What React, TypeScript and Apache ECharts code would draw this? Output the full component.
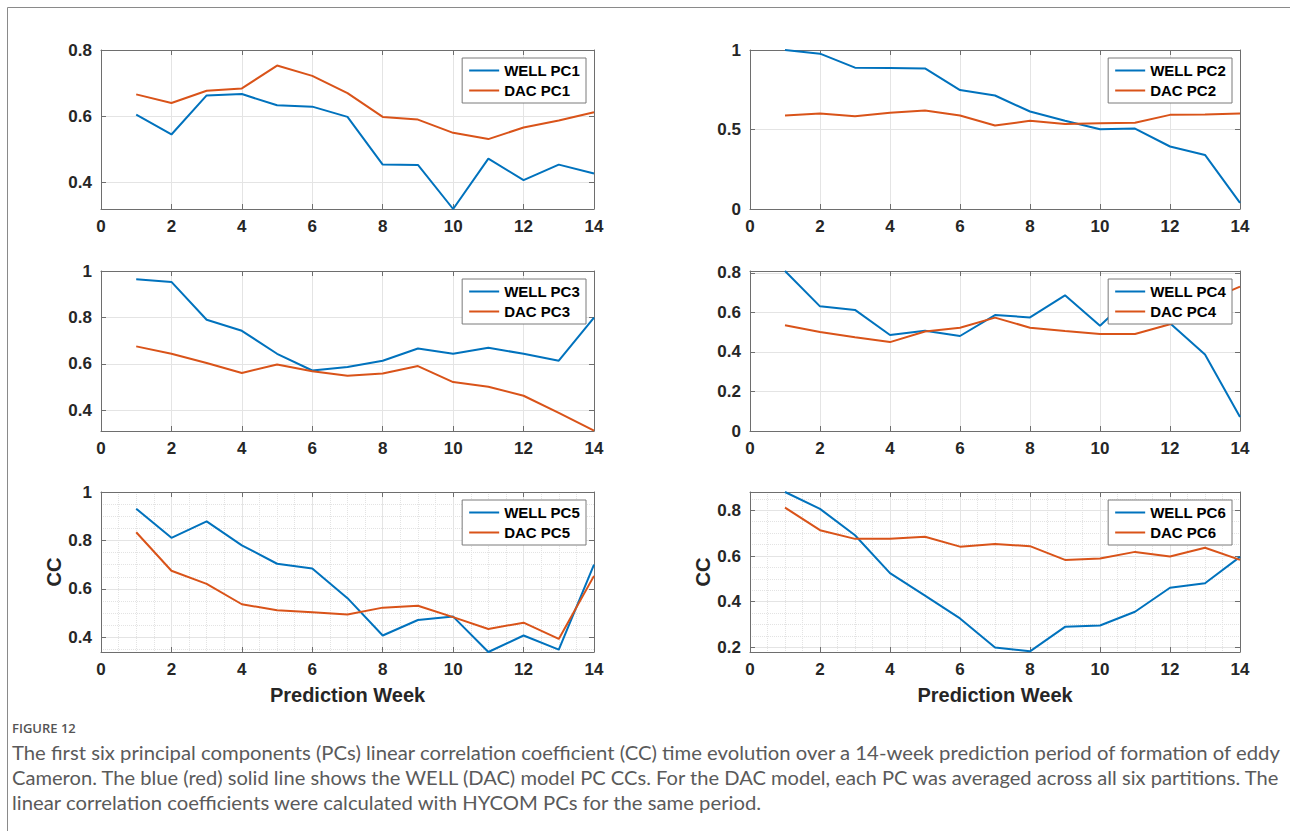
import React, { useEffect, useRef } from "react";
import * as echarts from "echarts";

const weeks = [1, 2, 3, 4, 5, 6, 7, 8, 9, 10, 11, 12, 13, 14];

const wellPC1 = [0.605, 0.545, 0.663, 0.667, 0.633, 0.629, 0.598, 0.454, 0.453, 0.32, 0.472, 0.407, 0.454, 0.427];
const dacPC1 = [0.666, 0.64, 0.677, 0.684, 0.753, 0.722, 0.67, 0.598, 0.59, 0.55, 0.531, 0.566, 0.587, 0.612];
const wellPC2 = [1.0, 0.977, 0.889, 0.887, 0.884, 0.748, 0.714, 0.613, 0.555, 0.502, 0.506, 0.393, 0.34, 0.038];
const dacPC2 = [0.588, 0.601, 0.584, 0.605, 0.62, 0.588, 0.525, 0.555, 0.534, 0.54, 0.542, 0.592, 0.595, 0.601];
const wellPC3 = [0.964, 0.953, 0.79, 0.742, 0.643, 0.571, 0.586, 0.613, 0.666, 0.643, 0.669, 0.643, 0.613, 0.799];
const dacPC3 = [0.675, 0.643, 0.603, 0.56, 0.597, 0.568, 0.548, 0.558, 0.59, 0.521, 0.501, 0.462, 0.388, 0.312];
const wellPC4 = [0.81, 0.631, 0.613, 0.486, 0.508, 0.481, 0.587, 0.575, 0.687, 0.533, 0.7, 0.545, 0.387, 0.071];
const dacPC4 = [0.535, 0.501, 0.475, 0.45, 0.504, 0.523, 0.574, 0.523, 0.506, 0.491, 0.491, 0.54, 0.655, 0.731];
const wellPC5 = [0.931, 0.811, 0.879, 0.78, 0.704, 0.684, 0.562, 0.408, 0.472, 0.486, 0.34, 0.408, 0.35, 0.7];
const dacPC5 = [0.834, 0.675, 0.621, 0.537, 0.512, 0.504, 0.495, 0.523, 0.531, 0.484, 0.435, 0.461, 0.394, 0.654];
const wellPC6 = [0.88, 0.806, 0.691, 0.525, 0.427, 0.327, 0.2, 0.183, 0.29, 0.296, 0.356, 0.461, 0.481, 0.596];
const dacPC6 = [0.812, 0.713, 0.675, 0.676, 0.684, 0.641, 0.653, 0.643, 0.583, 0.589, 0.618, 0.598, 0.636, 0.583];

const yTicksPC1 = [0.4, 0.6, 0.8];
const yTicksPC2 = [0, 0.5, 1];
const yTicksPC3 = [0.4, 0.6, 0.8, 1];
const yTicksPC4 = [0, 0.2, 0.4, 0.6, 0.8];
const yTicksPC5 = [0.4, 0.6, 0.8, 1];
const yTicksPC6 = [0.2, 0.4, 0.6, 0.8];

const captionTitle = "FIGURE 12";
const captionLines = [
  "The first six principal components (PCs) linear correlation coefficient (CC) time evolution over a 14-week prediction period of formation of eddy",
  "Cameron. The blue (red) solid line shows the WELL (DAC) model PC CCs. For the DAC model, each PC was averaged across all six partitions. The",
  "linear correlation coefficients were calculated with HYCOM PCs for the same period.",
];

const panels = [
  { label: "PC1", well: wellPC1, dac: dacPC1, yMin: 0.32, yMax: 0.8, ticks: yTicksPC1, split: 3, minor: false },
  { label: "PC2", well: wellPC2, dac: dacPC2, yMin: 0, yMax: 1, ticks: yTicksPC2, split: 2, minor: false },
  { label: "PC3", well: wellPC3, dac: dacPC3, yMin: 0.31, yMax: 1, ticks: yTicksPC3, split: 3, minor: false },
  { label: "PC4", well: wellPC4, dac: dacPC4, yMin: 0, yMax: 0.81, ticks: yTicksPC4, split: 4, minor: false },
  { label: "PC5", well: wellPC5, dac: dacPC5, yMin: 0.34, yMax: 1, ticks: yTicksPC5, split: 3, minor: true },
  { label: "PC6", well: wellPC6, dac: dacPC6, yMin: 0.18, yMax: 0.88, ticks: yTicksPC6, split: 3, minor: true },
];

const W = 1290;
const colLeft = [101, 750];
const colWidth = [493, 490];
const rowTop = [50, 271, 492];
const rowHeight = [159, 160, 160];

const BLUE = "#0072BD";
const ORANGE = "#D95319";
const AXIS = "#262626";
const BOX = "#6e6e6e";
const FONT = "Liberation Sans";
const CAPTION_FONT_SIZE = 19;
const CAPTION_WIDTH = 1270;

function measure(text: string): number {
  const c = document.createElement("canvas").getContext("2d");
  if (!c) return text.length * 8;
  c.font = CAPTION_FONT_SIZE + "px Lato";
  return c.measureText(text).width;
}

function buildOption() {
  const grid: any[] = [];
  const xAxis: any[] = [];
  const yAxis: any[] = [];
  const series: any[] = [];
  const legend: any[] = [];

  panels.forEach((p, i) => {
    const col = i % 2;
    const row = Math.floor(i / 2);
    const left = colLeft[col];
    const width = colWidth[col];
    const top = rowTop[row];
    const height = rowHeight[row];
    grid.push({ left, top, width, height, containLabel: false });
    const isBottom = row === 2;

    const minorSplit = p.minor
      ? { show: true, lineStyle: { color: "#e3e3e3", type: "dotted", width: 1 } }
      : { show: false };

    xAxis.push({
      type: "value",
      gridIndex: i,
      position: "bottom",
      min: 0,
      max: 14,
      interval: 2,
      axisLine: { show: true, onZero: false, lineStyle: { color: BOX, width: 1 } },
      axisTick: { show: true, inside: true, length: 5, lineStyle: { color: BOX } },
      axisLabel: { color: AXIS, fontSize: 17, fontWeight: "bold", fontFamily: FONT, margin: 9 },
      splitLine: { show: true, lineStyle: { color: "#e4e4e4", width: 1 } },
      minorTick: { show: false, splitNumber: 4 },
      minorSplitLine: minorSplit,
      name: isBottom ? "Prediction Week" : "",
      nameLocation: "middle",
      nameGap: 33,
      nameTextStyle: { color: AXIS, fontSize: 20, fontWeight: "bold", fontFamily: FONT },
    });
    xAxis.push({
      type: "value",
      gridIndex: i,
      position: "top",
      min: 0,
      max: 14,
      interval: 2,
      axisLine: { show: true, onZero: false, lineStyle: { color: BOX, width: 1 } },
      axisTick: { show: true, inside: true, length: 5, lineStyle: { color: BOX } },
      axisLabel: { show: false },
      splitLine: { show: false },
    });
    yAxis.push({
      type: "value",
      gridIndex: i,
      position: "left",
      min: p.yMin,
      max: p.yMax,
      splitNumber: p.split,
      axisLine: { show: true, onZero: false, lineStyle: { color: BOX, width: 1 } },
      axisTick: { show: true, inside: true, length: 5, lineStyle: { color: BOX }, customValues: p.ticks },
      axisLabel: {
        color: AXIS,
        fontSize: 17,
        fontWeight: "bold",
        fontFamily: FONT,
        margin: 9,
        customValues: p.ticks,
      },
      splitLine: { show: true, lineStyle: { color: "#e4e4e4", width: 1 } },
      minorTick: { show: false, splitNumber: 4 },
      minorSplitLine: minorSplit,
      name: isBottom ? "CC" : "",
      nameLocation: "middle",
      nameGap: 35,
      nameRotate: 90,
      nameTextStyle: { color: AXIS, fontSize: 20, fontWeight: "bold", fontFamily: FONT },
    });
    yAxis.push({
      type: "value",
      gridIndex: i,
      position: "right",
      min: p.yMin,
      max: p.yMax,
      splitNumber: p.split,
      axisLine: { show: true, onZero: false, lineStyle: { color: BOX, width: 1 } },
      axisTick: { show: true, inside: true, length: 5, lineStyle: { color: BOX }, customValues: p.ticks },
      axisLabel: { show: false },
      splitLine: { show: false },
    });

    const wellName = "WELL " + p.label;
    const dacName = "DAC " + p.label;
    series.push({
      type: "line",
      name: wellName,
      xAxisIndex: 2 * i,
      yAxisIndex: 2 * i,
      data: weeks.map((w, k) => [w, p.well[k]]),
      symbol: "none",
      lineStyle: { color: BLUE, width: 2 },
      itemStyle: { color: BLUE },
      z: 3,
    });
    series.push({
      type: "line",
      name: dacName,
      xAxisIndex: 2 * i,
      yAxisIndex: 2 * i,
      data: weeks.map((w, k) => [w, p.dac[k]]),
      symbol: "none",
      lineStyle: { color: ORANGE, width: 2 },
      itemStyle: { color: ORANGE },
      z: 3,
    });

    legend.push({
      data: [wellName, dacName],
      orient: "vertical",
      right: W - (left + width) + 8,
      top: top + 8,
      backgroundColor: "#ffffff",
      borderColor: "#7a7a7a",
      borderWidth: 1,
      borderRadius: 0,
      padding: [5, 6, 5, 6],
      itemGap: 5,
      itemWidth: 30,
      itemHeight: 14,
      itemStyle: { opacity: 0 },
      lineStyle: { width: 2 },
      textStyle: { color: "#000", fontSize: 15, fontWeight: "bold", fontFamily: FONT },
      selectedMode: false,
      z: 10,
    });
  });

  const widths = captionLines.map(measure);
  const scales = [CAPTION_WIDTH / widths[0], CAPTION_WIDTH / widths[1]];
  scales.push(scales[0]);

  const graphic: any[] = [
    {
      type: "polyline",
      shape: { points: [[7.5, 831], [7.5, 7.5], [1290, 7.5]] },
      style: { stroke: "#8a8a8a", lineWidth: 1, fill: "none" },
      silent: true,
    },
    {
      type: "text",
      left: 12,
      top: 721,
      style: { text: captionTitle, fill: "#555555", fontSize: 13, fontWeight: 600, fontFamily: "Open Sans" },
      silent: true,
    },
    ...captionLines.map((t, k) => ({
      type: "text",
      x: 12,
      y: 753 + k * 25,
      scaleX: scales[k],
      style: {
        text: t,
        fill: "#5a5a5a",
        fontSize: CAPTION_FONT_SIZE,
        fontFamily: "Lato",
        verticalAlign: "middle",
        align: "left",
      },
      silent: true,
    })),
  ];

  return {
    animation: false,
    backgroundColor: "#ffffff",
    grid,
    xAxis,
    yAxis,
    series,
    legend,
    graphic,
  };
}

export default function App() {
  const ref = useRef<HTMLDivElement>(null);
  useEffect(() => {
    document.body.style.margin = "0";
    const chart = echarts.init(ref.current as HTMLDivElement, null, { renderer: "svg" });
    chart.setOption(buildOption() as any);
    return () => chart.dispose();
  }, []);
  return <div ref={ref} style={{ width: 1290, height: 831, background: "#fff" }} />;
}
